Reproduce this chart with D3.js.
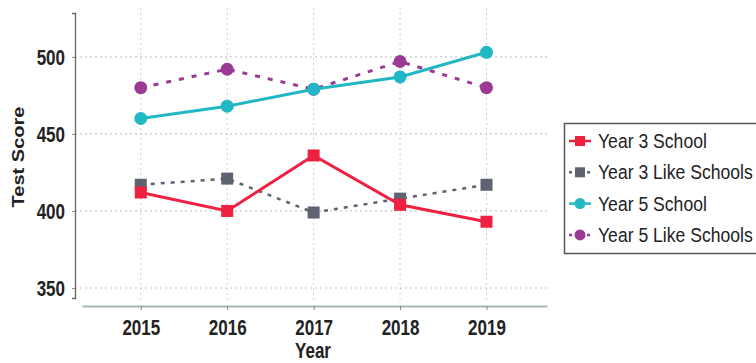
<!DOCTYPE html>
<html>
<head>
<meta charset="utf-8">
<script src="https://cdn.jsdelivr.net/npm/d3@7"></script>
<style>
  html, body { margin: 0; padding: 0; background: #fff; }
  svg { display: block; font-family: "Liberation Sans", Arial, sans-serif; }
</style>
</head>
<body>
<svg id="chart" width="756" height="363"></svg>
<script>
// Test scores by year
const years = [2015, 2016, 2017, 2018, 2019];
const year3School = [412, 400, 436, 404, 393];
const year3Like = [417, 421, 399, 408, 417];
const year5School = [460, 468, 479, 487, 503];
const year5Like = [480, 492, 479, 497, 480];
const yTicks = [350, 400, 450, 500];

const series = [
  { name: "Year 3 Like Schools", values: year3Like, color: "#5f6371", shape: "square", dash: "4,6", width: 2.5, legendOrder: 1 },
  { name: "Year 3 School", values: year3School, color: "#ef2140", shape: "square", dash: null, width: 3, legendOrder: 0 },
  { name: "Year 5 Like Schools", values: year5Like, color: "#993a94", shape: "circle", dash: "5,8", width: 3, legendOrder: 3 },
  { name: "Year 5 School", values: year5School, color: "#22b7c5", shape: "circle", dash: null, width: 3, legendOrder: 2 }
];

const stretch = 1.25; // tall, narrow lettering

const svg = d3.select("#chart");

const x = d3.scaleLinear().domain([2014.32, 2019.7]).range([82, 547]);
const y = d3.scaleLinear().domain([343.5, 528.5]).range([298, 13]);

// grid
const grid = svg.append("g");
grid.selectAll("line.h").data(yTicks).join("line")
  .attr("x1", 75).attr("x2", 547)
  .attr("y1", d => y(d)).attr("y2", d => y(d))
  .attr("stroke", "#c8c8c8").attr("stroke-width", 1.2).attr("stroke-dasharray", "2,3");
grid.selectAll("line.v").data(years).join("line")
  .attr("x1", d => x(d)).attr("x2", d => x(d))
  .attr("y1", 8).attr("y2", 300)
  .attr("stroke", "#cfcfcf").attr("stroke-width", 1).attr("stroke-dasharray", "2,3");

// y axis
const yAxis = svg.append("g").attr("transform", "translate(75,0)")
  .call(d3.axisLeft(y).tickValues(yTicks).tickSize(3).tickPadding(8));
yAxis.select(".domain").attr("stroke", "#666").attr("stroke-width", 1.3);
yAxis.selectAll(".tick line").attr("stroke", "#888");
yAxis.selectAll("text")
  .attr("x", 0).attr("y", 0).attr("dy", "0.36em")
  .attr("transform", `translate(-10,0) scale(1,${stretch})`)
  .attr("font-size", 17).attr("font-weight", "bold").attr("fill", "#222");

// x axis
const xAxis = svg.append("g").attr("transform", "translate(0,306)")
  .call(d3.axisBottom(x).tickValues(years).tickFormat(d3.format("d")).tickSize(4).tickPadding(6).tickSizeOuter(0));
xAxis.select(".domain").attr("stroke", "#a9bab5").attr("stroke-width", 2);
xAxis.selectAll(".tick line").attr("stroke", "#888");
xAxis.selectAll("text")
  .attr("y", 0).attr("dy", "0.36em")
  .attr("transform", `translate(0,21) scale(1,${stretch})`)
  .attr("font-size", 17).attr("font-weight", "bold").attr("fill", "#222");

// axis titles
svg.append("text").attr("transform", `translate(313,350) scale(1,${stretch})`)
  .attr("dy", "0.36em").attr("text-anchor", "middle")
  .attr("font-size", 17).attr("font-weight", "bold").attr("fill", "#222").text("Year");
svg.append("text").attr("transform", `translate(18.5,157) scale(1,${stretch}) rotate(-90)`)
  .attr("dy", "0.36em").attr("text-anchor", "middle")
  .attr("font-size", 16).attr("font-weight", "bold").attr("fill", "#222").text("Test Score");

// series
const line = d3.line().x((d, i) => x(years[i])).y(d => y(d));
series.forEach(s => {
  const g = svg.append("g");
  g.append("path").datum(s.values).attr("d", line)
    .attr("fill", "none").attr("stroke", s.color).attr("stroke-width", s.width)
    .attr("stroke-dasharray", s.dash);
  if (s.shape === "square") {
    g.selectAll("rect").data(s.values).join("rect")
      .attr("x", (d, i) => x(years[i]) - 6).attr("y", d => y(d) - 6)
      .attr("width", 12).attr("height", 12).attr("fill", s.color);
  } else {
    g.selectAll("circle").data(s.values).join("circle")
      .attr("cx", (d, i) => x(years[i])).attr("cy", d => y(d))
      .attr("r", 6.5).attr("fill", s.color);
  }
});

// legend
const legend = svg.append("g");
legend.append("rect").attr("x", 564.5).attr("y", 123.5).attr("width", 200).attr("height", 130)
  .attr("fill", "#fff").attr("stroke", "#555").attr("stroke-width", 1.5);
const legendItems = series.slice().sort((a, b) => a.legendOrder - b.legendOrder);
legendItems.forEach((s, i) => {
  const cy = 141 + i * 31.3;
  const g = legend.append("g");
  g.append("line").attr("x1", 569).attr("x2", 591).attr("y1", cy).attr("y2", cy)
    .attr("stroke", s.color).attr("stroke-width", 2.5).attr("stroke-dasharray", s.dash ? "3,3" : null);
  if (s.shape === "square") {
    g.append("rect").attr("x", 575).attr("y", cy - 5).attr("width", 10).attr("height", 10).attr("fill", s.color);
  } else {
    g.append("circle").attr("cx", 580).attr("cy", cy).attr("r", 5.5).attr("fill", s.color);
  }
  g.append("text").attr("transform", `translate(598,${cy}) scale(1,1.12)`).attr("dy", "0.36em")
    .attr("font-size", 17.6).attr("fill", "#222").text(s.name);
});
</script>
</body>
</html>
